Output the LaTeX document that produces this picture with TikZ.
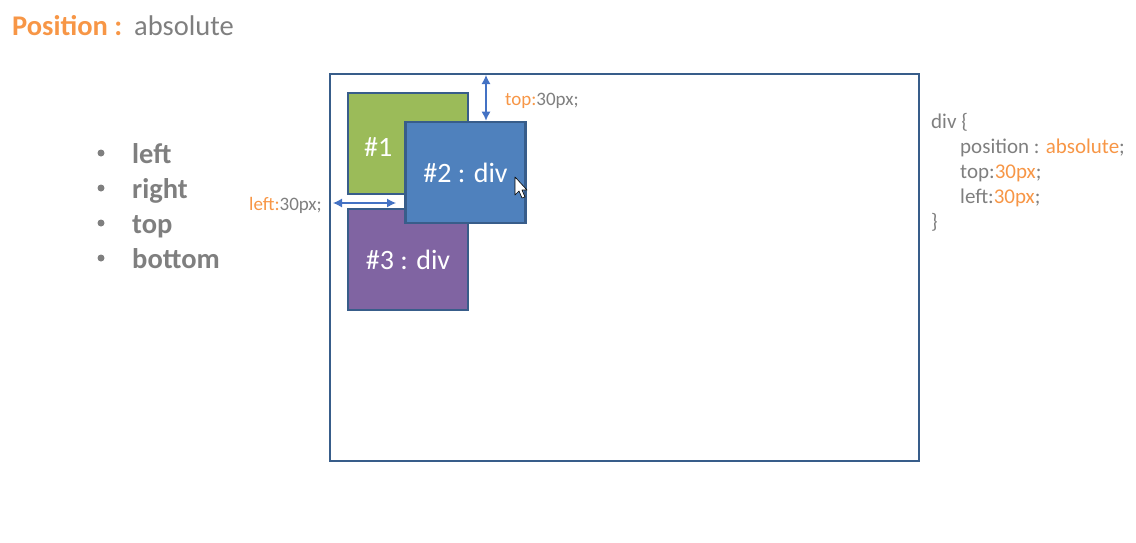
\documentclass[tikz,border=0pt]{standalone}
\usepackage{fontspec}
\setmainfont{Carlito}
\usetikzlibrary{positioning,arrows.meta}

\definecolor{txtgray}{HTML}{7F7F7F}
\definecolor{cssorange}{HTML}{F79646}
\definecolor{frameblue}{HTML}{385D8A}
\definecolor{arrowblue}{HTML}{4472C4}
\definecolor{divgreen}{HTML}{9BBB59}
\definecolor{divblue}{HTML}{4F81BD}
\definecolor{divpurple}{HTML}{8064A2}

\begin{document}
\begin{tikzpicture}[x=1pt, y=-1pt,
      divbox/.style={draw=frameblue, line width=2.7pt, minimum width=120pt,
          minimum height=101pt, inner sep=0pt, text=white,
          font=\fontsize{28}{32}\selectfont},
      bulletitem/.style={text=txtgray, font=\fontsize{28.5}{32}\selectfont\bfseries,
          anchor=base west, inner sep=0pt},
      codeline/.style={text=txtgray, font=\fontsize{21}{24}\selectfont,
          anchor=base west, inner sep=0pt},
      dimlabel/.style={text=txtgray, font=\fontsize{19}{22}\selectfont, inner sep=0pt},
      dimarrow/.style={arrowblue, line width=1.2pt, {Latex[length=9pt,width=9pt]}-{Latex[length=9pt,width=9pt]}}]

      \useasboundingbox (0,0) rectangle (1136,542);

      % Title
      \node(title)[anchor=base west, inner sep=0pt, text=cssorange,
          font=\fontsize{28.5}{32}\selectfont\bfseries] at (12,35) {Position :};
      \node(titlevalue)[anchor=base west, inner sep=0pt, text=txtgray,
          font=\fontsize{28.5}{32}\selectfont] at (134,35) {absolute};

      % List of offset properties
      \node(item1)[bulletitem] at (132,163) {left};
      \node(item2)[bulletitem] at (132,198) {right};
      \node(item3)[bulletitem] at (132,233) {top};
      \node(item4)[bulletitem] at (132,268) {bottom};
      \foreach \i in {1,...,4}
          \fill[txtgray] ([xshift=-31pt, yshift=10pt]item\i.base west) circle (3.5pt);

      % Containing block
      \node(outer)[draw=frameblue, line width=2.8pt, minimum width=589pt,
          minimum height=387pt, inner sep=0pt] at (624.5,267.5) {};

      % Positioned divs
      \node(box1)[divbox, fill=divgreen] at (408,143.5) {};
      \node[text=white, font=\fontsize{28}{32}\selectfont, anchor=base west,
          inner sep=0pt] at (364,156) {\#1};
      \node(box3)[divbox, fill=divpurple] at (408,259.5) {\#3 : div};
      \node(box2)[divbox, fill=divblue] at (465.5,172.5) {\#2 : div};

      % Mouse pointer
      \draw[fill=white, line width=0.6pt, line join=round]
          (515,177) -- (515,195) -- (519,191) -- (522,198) -- (525,197)
          -- (522,190) -- (527,190) -- cycle;

      % Offset arrows
      \coordinate(topend) at (486,75);
      \draw[dimarrow] (topend) -- (topend |- box2.north);
      \node(toplabel)[dimlabel, anchor=base west] at (505,105)
          {\textcolor{cssorange}{top:}30px;};

      \coordinate(leftstart) at (333,203);
      \coordinate(leftend) at (396,203);
      \draw[dimarrow] (leftstart) -- (leftend);
      \node(leftlabel)[dimlabel, anchor=base east] at (322,210)
          {\textcolor{cssorange}{left:}30px;};

      % CSS rule
      \node(code1)[codeline] at (931,128) {div \{};
      \node(code2)[codeline] at (960,153)
          {position : \textcolor{cssorange}{absolute};};
      \node(code3)[codeline] at (960,178) {top:\textcolor{cssorange}{30px};};
      \node(code4)[codeline] at (960,203) {left:\textcolor{cssorange}{30px};};
      \node(code5)[codeline] at (931,228) {\}};

\end{tikzpicture}
\end{document}
